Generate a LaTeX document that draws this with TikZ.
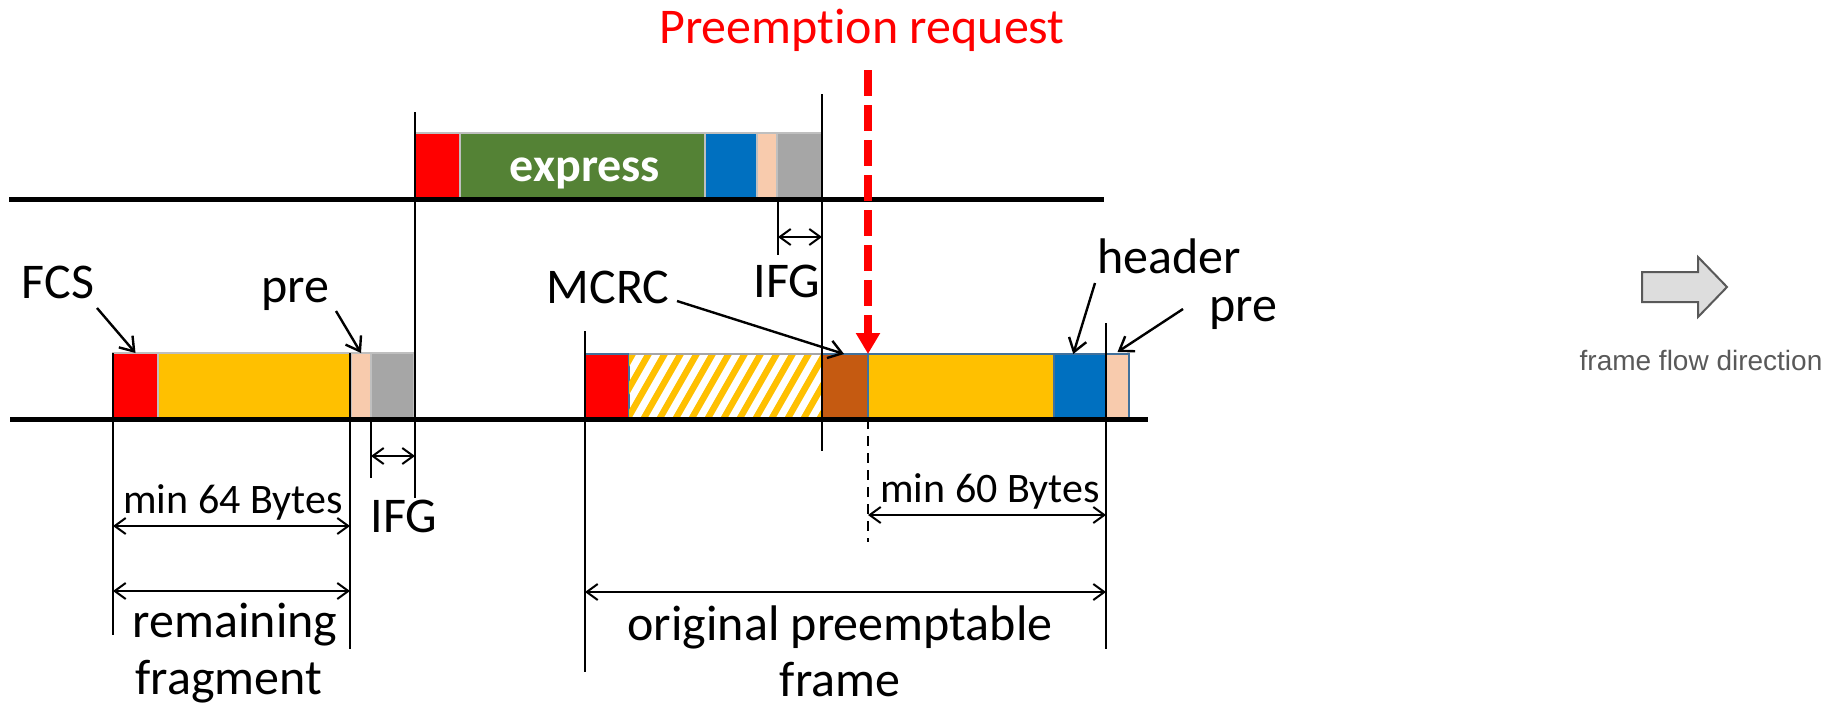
\documentclass[tikz,border=0pt]{standalone}
\usepackage{fontspec}
\setmainfont{Carlito}[RawFeature={-liga;-clig;-calt;-dlig}]
\newfontfamily\arialfont{Liberation Sans}
\usetikzlibrary{arrows.meta,calc}
\definecolor{cRed}{HTML}{FF0000}
\definecolor{cGreen}{HTML}{548235}
\definecolor{cBlue}{HTML}{0070C0}
\definecolor{cPeach}{HTML}{F8CBAD}
\definecolor{cGray}{HTML}{A6A6A6}
\definecolor{cYellow}{HTML}{FFC000}
\definecolor{cBrown}{HTML}{C55A11}
\definecolor{cEdge}{HTML}{BFBFBF}
\definecolor{cFrame}{HTML}{41719C}
\definecolor{cText}{HTML}{595959}
\definecolor{cArrowFill}{HTML}{DDDDDD}
\newcommand\segbox[6]{\node[seg,#2,minimum width={(#4-#3)*0.5pt},minimum height={(#6-#5)*0.5pt}] (#1) at (#3,#5) {};}
\begin{document}
\begin{tikzpicture}[x=0.5pt,y=-0.5pt,
  seg/.style={rectangle, inner sep=0pt, outer sep=0pt, anchor=north west, draw=cEdge, line width=0.7pt},
  oseg/.style={draw=cFrame, line width=0.9pt},
  bus/.style={line width=2.5pt, black},
  vline/.style={line width=1pt, black},
  dim/.style={line width=1pt, black, {Straight Barb[length=5.5pt,width=8pt]}-{Straight Barb[length=5.5pt,width=8pt]}},
  note/.style={line width=1.2pt, black, -{Straight Barb[length=6.5pt,width=9pt]}},
  lbl/.style={inner sep=0pt, anchor=base, font=\fontsize{25}{30}\selectfont},
  sm/.style={inner sep=0pt, anchor=base, font=\fontsize{21}{25}\selectfont},
  redarrow/.style={draw=cRed, line width=4pt, dash pattern=on 13pt off 4.5pt, -{Triangle[length=10.5pt,width=11.5pt]}}
]
\useasboundingbox (0,0) rectangle (1835,707);

% ---- express frame (top row)
\segbox{exR}{fill=cRed}{415}{460}{133}{198}
\segbox{exG}{fill=cGreen}{460}{705}{133}{198}
\segbox{exB}{fill=cBlue}{705}{757}{133}{198}
\segbox{exP}{fill=cPeach}{757}{777}{133}{198}
\segbox{exI}{fill=cGray}{777}{822}{133}{198}
\node[inner sep=0pt, anchor=base, text=white, font=\bfseries\fontsize{24}{28}\selectfont] (exT) at (585,181) {express};

% ---- remaining fragment (bottom left)
\segbox{fR}{fill=cRed}{113}{158}{353}{418}
\segbox{fY}{fill=cYellow}{158}{351}{353}{418}
\segbox{fP}{fill=cPeach}{351}{371}{353}{418}
\segbox{fI}{fill=cGray}{371}{414}{353}{418}

% ---- original preemptable frame (bottom right)
\segbox{oR}{fill=cRed,oseg}{585}{629}{354}{418}
\segbox{oH}{fill=white,oseg}{629}{822}{354}{418}
\begin{scope}
  \clip (oH.north west) rectangle (oH.south east);
  \foreach \x in {560,576,...,850}
    \draw[cYellow, line width=3.2pt] (\x,425) -- ++(44,-77);
\end{scope}
\draw[cGray, line width=1pt] (oH.north west) -- (oH.north east);
\segbox{oM}{fill=cBrown,oseg}{822}{868}{354}{418}
\segbox{oY}{fill=cYellow,oseg}{868}{1054}{354}{418}
\segbox{oB}{fill=cBlue,oseg}{1054}{1106}{354}{418}
\segbox{oP}{fill=cPeach,oseg}{1106}{1129}{354}{418}

% ---- bus lines
\coordinate (L1a) at (9,199);   \coordinate (L1b) at (1104,199);
\coordinate (L2a) at (10,419);  \coordinate (L2b) at (1148,419);
\draw[bus] (L1a) -- (L1b);
\draw[bus] (L2a) -- (L2b);

% ---- vertical marker lines
\coordinate (v1t) at (415,112); \coordinate (v1b) at (415,498);
\coordinate (v2t) at (822,94);  \coordinate (v2b) at (822,451);
\coordinate (v3t) at (778,199); \coordinate (v3b) at (778,255);
\coordinate (v4t) at (113,353); \coordinate (v4b) at (113,635);
\coordinate (v5t) at (350,353); \coordinate (v5b) at (350,649);
\coordinate (v6t) at (371,419); \coordinate (v6b) at (371,478);
\coordinate (v7t) at (585,331); \coordinate (v7b) at (585,672);
\coordinate (v8t) at (1106,323);\coordinate (v8b) at (1106,649);
\coordinate (v9t) at (868,419); \coordinate (v9b) at (868,542);
\draw[vline] (v1t) -- (v1b);
\draw[vline] (v2t) -- (v2b);
\draw[vline] (v3t) -- (v3b);
\draw[vline] (v4t) -- (v4b);
\draw[vline] (v5t) -- (v5b);
\draw[vline] (v6t) -- (v6b);
\draw[vline] (v7t) -- (v7b);
\draw[vline] (v8t) -- (v8b);
\draw[vline, dash pattern=on 5pt off 3.5pt] (v9t) -- (v9b);

% ---- dimension arrows
\coordinate (d1a) at (778,237);  \coordinate (d1b) at (822,237);
\coordinate (d2a) at (371,456);  \coordinate (d2b) at (415,456);
\coordinate (d3a) at (113,526);  \coordinate (d3b) at (350,526);
\coordinate (d4a) at (113,591);  \coordinate (d4b) at (350,591);
\coordinate (d5a) at (868,515);  \coordinate (d5b) at (1106,515);
\coordinate (d6a) at (585,592);  \coordinate (d6b) at (1106,592);
\draw[dim] (d1a) -- (d1b);
\draw[dim] (d2a) -- (d2b);
\draw[dim] (d3a) -- (d3b);
\draw[dim] (d4a) -- (d4b);
\draw[dim] (d5a) -- (d5b);
\draw[dim] (d6a) -- (d6b);

% ---- labels
\node[lbl, text=cRed] (preq) at (862,43) {Preemption request};
\node[lbl] (fcs) at (58,298) {FCS};
\node[lbl] (pre1) at (295,302) {pre};
\node[lbl] (ifg1) at (404,532) {IFG};
\node[sm] (m64) at (233,513) {min 64 Bytes};
\node[lbl] (rem) at (235,637) {remaining};
\node[lbl] (frag) at (229,694) {fragment};
\node[lbl] (mcrc) at (608,303) {MCRC};
\node[lbl] (ifg2) at (787,297) {IFG};
\node[lbl] (hdr) at (1169,273) {header};
\node[lbl] (pre2) at (1243,321) {pre};
\node[sm] (m60) at (990,502) {min 60 Bytes};
\node[lbl] (orig) at (840,640) {original preemptable};
\node[lbl] (frm) at (840,696) {frame};

% ---- annotation arrows
\coordinate (fcsA) at (97,308);
\coordinate (pre1A) at (336,311);
\coordinate (mcrcA) at (677,301);
\coordinate (hdrA) at (1095,283);
\coordinate (pre2A) at (1183,309);
\draw[note] (fcsA) -- (fR.north);
\draw[note] (pre1A) -- (fP.north);
\draw[note] (mcrcA) -- ($(oM.north west)!0.48!(oM.north east)$);
\draw[note] (hdrA) -- ($(oB.north west)!0.37!(oB.north east)$);
\draw[note] (pre2A) -- ([yshift=1pt]oP.north);

% ---- preemption request arrow
\coordinate (rq) at (868,70);
\draw[redarrow] (rq) -- (oM.north east);

% ---- frame flow direction legend
\draw[fill=cArrowFill, draw=cText, line width=1pt]
  (1642,272) -- (1698,272) -- (1698,257) -- (1727,287) -- (1698,317) -- (1698,302) -- (1642,302) -- cycle;
\node[inner sep=0pt, anchor=base, text=cText, font=\arialfont\fontsize{14}{16}\selectfont] (ffd) at (1701,370) {frame flow direction};
\end{tikzpicture}
\end{document}
